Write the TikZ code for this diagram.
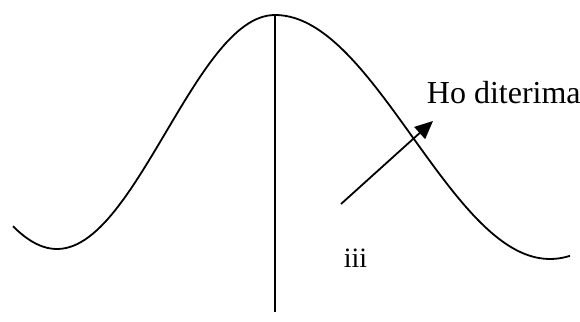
\documentclass[tikz,border=0pt]{standalone}
\usepackage{fontspec}
\setmainfont{Liberation Serif}
\usetikzlibrary{arrows.meta}

\begin{document}
\begin{tikzpicture}[x=0.5pt,y=-0.5pt,>={Triangle[length=9pt,width=8pt]},line width=0.9pt]
    \useasboundingbox (0,0) rectangle (580,322);
    \coordinate (peak) at (275,15);
    \coordinate (foot) at (275,312);
    \coordinate (tail) at (341,204);
    \coordinate (tip) at (433,121);
    % bell curve, left and right halves
    \draw plot[domain=13:275,samples=70] (\x,{132+117*cos((\x-57)/218*180)})
        -- plot[domain=275:570,samples=80] (\x,{137-122*cos((\x-275)/275*180)});
    \draw (peak)--(foot);
    \draw[->] (tail)--(tip);
    \node[anchor=base west,inner sep=0pt,font=\fontsize{16}{19}\selectfont] (hoLabel) at (426,103) {Ho diterima};
    \node[anchor=base west,inner sep=0pt,font=\fontsize{14}{17}\selectfont] (iiiLabel) at (343,267) {iii};
\end{tikzpicture}
\end{document}
